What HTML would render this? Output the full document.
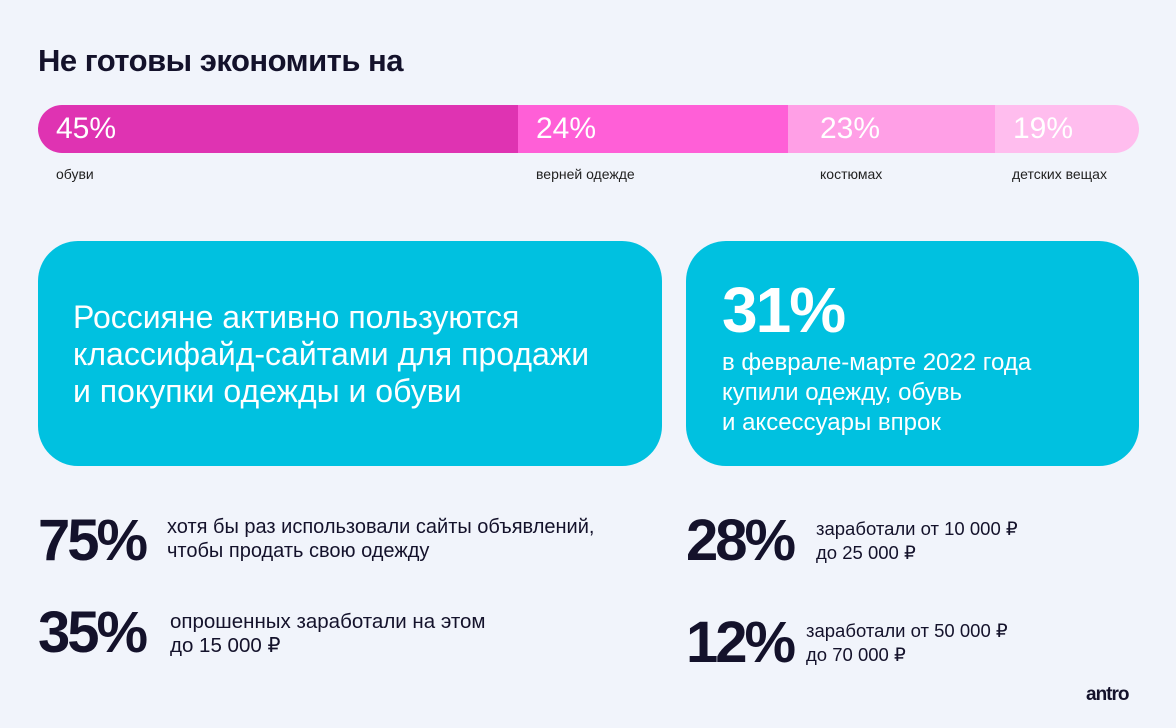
<!DOCTYPE html>
<html><head><meta charset="utf-8"><style>
body{margin:0;width:1176px;height:728px;background:#f1f4fb;font-family:"Liberation Sans",sans-serif;color:#14122b;position:relative;overflow:hidden}
.a{position:absolute;white-space:nowrap}
.seg{position:absolute;top:105px;height:48px;color:#fff;font-size:30px;line-height:48px;box-sizing:border-box;padding-left:18px}
.lbl{position:absolute;top:166px;font-size:14px;color:#222}
.card{position:absolute;top:241px;height:225px;background:#00c1e0;border-radius:40px;color:#fff}
.big{position:absolute;font-size:58px;font-weight:bold;letter-spacing:-3px;line-height:58px}
.txt{position:absolute;font-size:18.5px;line-height:24px}
</style></head><body>
<div class="a" style="left:38px;top:43px;font-size:31px;font-weight:bold;letter-spacing:-0.5px">Не готовы экономить на</div>
<div class="seg" style="left:38px;width:481px;background:#df33b2;border-radius:24px 0 0 24px">45%</div>
<div class="seg" style="left:518px;width:271px;background:#ff5fd7">24%</div>
<div class="seg" style="left:788px;width:208px;background:#ff9fe6;padding-left:32px">23%</div>
<div class="seg" style="left:995px;width:144px;background:#ffbdee;border-radius:0 24px 24px 0">19%</div>
<div class="lbl" style="left:56px">обуви</div>
<div class="lbl" style="left:536px">верней одежде</div>
<div class="lbl" style="left:820px">костюмах</div>
<div class="lbl" style="left:1012px">детских вещах</div>
<div class="card" style="left:38px;width:624px">
<div class="a" style="left:35px;top:58px;font-size:32px;line-height:37px">Россияне активно пользуются<br>классифайд-сайтами для продажи<br>и покупки одежды и обуви</div></div>
<div class="card" style="left:686px;width:453px">
<div class="a" style="left:36px;top:32px;font-size:64px;font-weight:bold;letter-spacing:-2px">31%</div>
<div class="a" style="left:36px;top:107px;font-size:24px;line-height:30px">в феврале-марте 2022 года<br>купили одежду, обувь<br>и аксессуары впрок</div></div>
<div class="big" style="left:38px;top:512px">75%</div>
<div class="txt" style="left:167px;top:515px;font-size:20px">хотя бы раз использовали сайты объявлений,<br>чтобы продать свою одежду</div>
<div class="big" style="left:38px;top:604px">35%</div>
<div class="txt" style="left:170px;top:610px;font-size:20.5px">опрошенных заработали на этом<br>до 15 000 ₽</div>
<div class="big" style="left:686px;top:512px">28%</div>
<div class="txt" style="left:816px;top:517px">заработали от 10 000 ₽<br>до 25 000 ₽</div>
<div class="big" style="left:686px;top:614px">12%</div>
<div class="txt" style="left:806px;top:619px">заработали от 50 000 ₽<br>до 70 000 ₽</div>
<div class="a" style="left:1086px;top:684px;font-size:19px;font-weight:bold;letter-spacing:-1px">antro</div>
</body></html>
